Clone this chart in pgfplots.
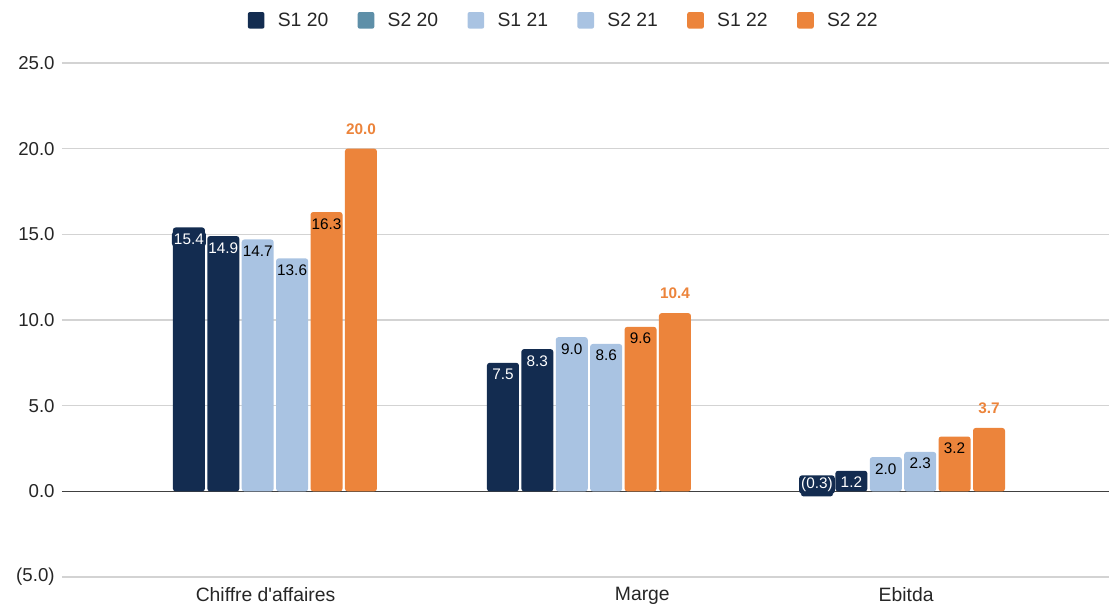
\documentclass[border=0pt]{standalone}
\usepackage{pgfplots}
\pgfplotsset{compat=1.18}
\usepackage{fontspec}
\setmainfont{Liberation Sans}[Ligatures=TeXOff]
\definecolor{navyc}{HTML}{132C50}
\definecolor{steelc}{HTML}{5E8FA8}
\definecolor{lightc}{HTML}{A9C3E2}
\definecolor{orangec}{HTML}{EC843B}
\definecolor{gridc}{HTML}{D3D3D3}
\begin{document}
\begin{tikzpicture}
\begin{axis}[
  at={(46.5pt,22.5pt)}, anchor=south west,
  scale only axis, width=785.25pt, height=385.5pt,
  xmin=-0.678, xmax=2.656, ymin=-5, ymax=25,
  ytick={-5,0,5,10,15,20,25},
  yticklabels={(5.0),0.0,5.0,10.0,15.0,20.0,25.0},
  xtick={-0.03,1.17,2.01},
  xticklabels={Chiffre d'affaires,Marge,Ebitda},
  ymajorgrids, grid style={gridc, line width=0.9pt},
  axis line style={draw=none},
  major tick length=0pt,
  tick label style={font=\fontsize{14}{16}\selectfont, text=black!85},
  yticklabel style={xshift=-2pt},
  xticklabel style={yshift=-4pt, font=\fontsize{14.5}{16}\selectfont},
  extra y ticks={0}, extra y tick labels={},
  extra y tick style={grid style={black!75, line width=1.1pt}},
  ybar=1.8pt, bar width=24pt,
  clip=false,
  point meta=explicit symbolic,
  nodes near coords,
  every node near coord/.append style={font=\fontsize{11.5}{13}\selectfont, inner sep=1.5pt},
  legend style={at={(0.4795,1)}, anchor=center, yshift=32pt, draw=none, fill=none,
    legend columns=6, font=\fontsize{14.5}{16}\selectfont, text=black!85,
    /tikz/every odd column/.append style={column sep=8pt},
    /tikz/every even column/.append style={column sep=20pt}},
  legend image code/.code={\fill[#1, rounded corners=1.5pt] (0pt,-6.2pt) rectangle (12.5pt,6.2pt);},
]
\addplot[fill=navyc, draw=none, rounded corners=2pt,
  visualization depends on={y \as \rawy},
  every node near coord/.append style={anchor=north, yshift={\rawy<0 ? 16pt : -3pt}, text=white, fill=navyc, rounded corners=2pt}]
  coordinates {(0,15.4) [15.4] (1,7.5) [7.5] (2,-0.3) [(0.3)]};
\addlegendentry{S1 20}
\addplot[fill=navyc, draw=none, rounded corners=2pt,
  legend image code/.code={\fill[steelc, rounded corners=1.5pt] (0pt,-6.2pt) rectangle (12.5pt,6.2pt);},
  every node near coord/.append style={anchor=north, yshift=-3pt, text=white}]
  coordinates {(0,14.9) [14.9] (1,8.3) [8.3] (2,1.2) [1.2]};
\addlegendentry{S2 20}
\addplot[fill=lightc, draw=none, rounded corners=2pt,
  every node near coord/.append style={anchor=north, yshift=-3pt, text=black}]
  coordinates {(0,14.7) [14.7] (1,9.0) [9.0] (2,2.0) [2.0]};
\addlegendentry{S1 21}
\addplot[fill=lightc, draw=none, rounded corners=2pt,
  every node near coord/.append style={anchor=north, yshift=-3pt, text=black}]
  coordinates {(0,13.6) [13.6] (1,8.6) [8.6] (2,2.3) [2.3]};
\addlegendentry{S2 21}
\addplot[fill=orangec, draw=none, rounded corners=2pt,
  every node near coord/.append style={anchor=north, yshift=-3pt, text=black}]
  coordinates {(0,16.3) [16.3] (1,9.6) [9.6] (2,3.2) [3.2]};
\addlegendentry{S1 22}
\addplot[fill=orangec, draw=none, rounded corners=2pt,
  every node near coord/.append style={anchor=south, yshift=9pt, text=orangec, font=\fontsize{11.5}{13}\selectfont\bfseries}]
  coordinates {(0,20.0) [20.0] (1,10.4) [10.4] (2,3.7) [3.7]};
\addlegendentry{S2 22}
\end{axis}
\pgfresetboundingbox
\path[use as bounding box] (0,0) rectangle (831.75pt,455.25pt);
\end{tikzpicture}
\end{document}
